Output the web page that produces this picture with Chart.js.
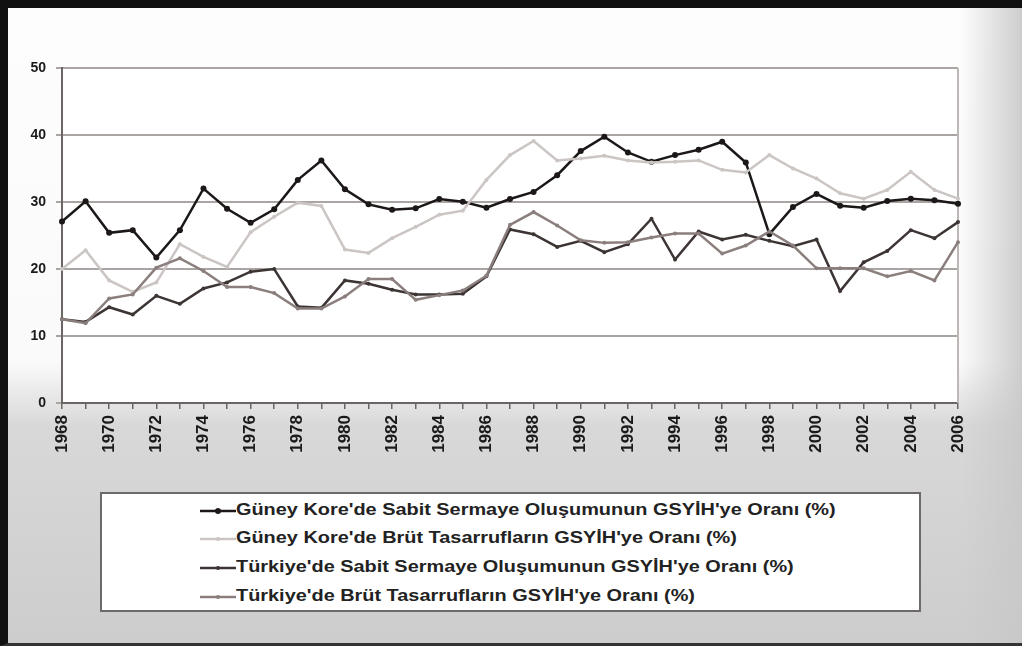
<!DOCTYPE html>
<html>
<head>
<meta charset="utf-8">
<script src="https://cdn.jsdelivr.net/npm/chart.js@4"></script>
<style>
  html, body { margin: 0; padding: 0; }
  body {
    width: 1022px; height: 646px; position: relative; overflow: hidden;
    font-family: "Liberation Sans", Arial, sans-serif;
    background:
      linear-gradient(to right, rgba(255,255,255,0) 94%, rgba(200,200,200,0.9) 100%),
      linear-gradient(to bottom, #fdfdfd 0%, #fafafa 56%, #d8d8d8 66%, #cdcdcd 100%);
  }
  #frame {
    position: absolute; left: 0; top: 0; width: 1022px; height: 646px; box-sizing: border-box;
    border-left: 8px solid #111; border-top: 8px solid #111; border-bottom: 3px solid #333;
    pointer-events: none;
  }
  #chart { position: absolute; left: 0; top: 0; }
  #legend {
    position: absolute; left: 100px; top: 492px; width: 821px; height: 120px;
    box-sizing: border-box; border: 2px solid #6e6a69; background: #fff;
  }
  .row { position: absolute; left: 0; height: 24px; white-space: nowrap; }
  .row svg { position: absolute; left: 98px; top: 6px; }
  .row span {
    position: absolute; left: 134px; top: 1px; font-weight: bold; font-size: 17px; color: #222;
    transform-origin: left center;
  }
</style>
</head>
<body>
<canvas id="chart" width="1022" height="646"></canvas>
<div id="legend"></div>
<div id="frame"></div>
<script>
// Yıllar
const years = [];
for (let y = 1968; y <= 2006; y++) years.push(String(y));

const koreaFixed = [27.1, 30.1, 25.4, 25.8, 21.7, 25.8, 32.0, 29.0, 26.9, 28.9,
  33.3, 36.2, 31.9, 29.65, 28.85, 29.05, 30.45, 30.05, 29.15, 30.45,
  31.5, 34.0, 37.6, 39.75, 37.4, 36.0, 37.0, 37.8, 39.0, 35.9,
  25.2, 29.25, 31.2, 29.45, 29.15, 30.15, 30.5, 30.25, 29.75];

const koreaSavings = [20.0, 22.8, 18.3, 16.6, 18.0, 23.7, 21.8, 20.3, 25.5, 27.8,
  29.9, 29.4, 22.9, 22.4, 24.6, 26.3, 28.1, 28.7, 33.3, 37.0,
  39.1, 36.2, 36.5, 36.9, 36.2, 35.9, 36.0, 36.2, 34.8, 34.4,
  37.0, 35.0, 33.5, 31.3, 30.5, 31.8, 34.5, 31.8, 30.5];

const turkeyFixed = [12.5, 12.1, 14.3, 13.2, 16.0, 14.8, 17.1, 18.0, 19.6, 20.0,
  14.4, 14.2, 18.3, 17.8, 16.9, 16.2, 16.2, 16.3, 18.9, 25.9,
  25.2, 23.3, 24.2, 22.5, 23.7, 27.5, 21.4, 25.6, 24.4, 25.1,
  24.2, 23.4, 24.4, 16.7, 21.0, 22.7, 25.8, 24.6, 27.0];

const turkeySavings = [12.5, 11.9, 15.6, 16.2, 20.2, 21.6, 19.7, 17.3, 17.3, 16.4,
  14.1, 14.1, 15.9, 18.5, 18.5, 15.4, 16.1, 16.8, 19.0, 26.6,
  28.5, 26.5, 24.3, 23.9, 24.0, 24.7, 25.3, 25.3, 22.3, 23.5,
  25.6, 23.5, 20.1, 20.1, 20.1, 18.9, 19.7, 18.3, 24.0];

const seriesNames = [
  "Güney Kore'de Sabit Sermaye Oluşumunun GSYİH'ye Oranı (%)",
  "Güney Kore'de Brüt Tasarrufların GSYİH'ye Oranı (%)",
  "Türkiye'de Sabit Sermaye Oluşumunun GSYİH'ye Oranı (%)",
  "Türkiye'de Brüt Tasarrufların GSYİH'ye Oranı (%)"
];
const yTicks = [0, 10, 20, 30, 40, 50];

const colors = ['#1c1818', '#cbc5c3', '#3d3434', '#8a7f7d'];
const radii = [3, 2, 2, 2];

const plotBg = {
  id: 'plotBg',
  beforeDraw(chart) {
    const { ctx, chartArea: a } = chart;
    ctx.save();
    ctx.fillStyle = '#ffffff';
    ctx.fillRect(a.left, a.top, a.right - a.left, a.bottom - a.top);
    ctx.restore();
  },
  beforeDatasetsDraw(chart) {
    const { ctx, chartArea: a } = chart;
    ctx.save();
    ctx.strokeStyle = '#bdb7b6';
    ctx.lineWidth = 2;
    ctx.beginPath();
    ctx.moveTo(a.right, a.top);
    ctx.lineTo(a.right, a.bottom);
    ctx.stroke();
    ctx.restore();
  }
};

const data = [koreaFixed, koreaSavings, turkeyFixed, turkeySavings];

const chart = new Chart(document.getElementById('chart'), {
  type: 'line',
  data: {
    labels: years,
    datasets: data.map((d, i) => ({
      label: seriesNames[i],
      data: d,
      borderColor: colors[i],
      backgroundColor: colors[i],
      borderWidth: 2.5,
      pointRadius: radii[i],
      pointBorderWidth: 0,
      tension: 0,
      fill: false
    })).reverse()
  },
  plugins: [plotBg],
  options: {
    responsive: false,
    animation: false,
    layout: { padding: { top: 68, right: 64, left: 0, bottom: 173 } },
    plugins: { legend: { display: false }, tooltip: { enabled: false } },
    scales: {
      x: {
        afterFit(scale) { scale.height = 70; },
        grid: { drawOnChartArea: false, drawTicks: true, tickLength: 6, color: '#6b6665', lineWidth: 1.5 },
        border: { color: '#6b6665', width: 2 },
        ticks: {
          autoSkip: false, minRotation: 90, maxRotation: 90, padding: 6,
          color: '#1a1a1a', font: { family: 'Liberation Sans', size: 17, weight: 'bold' },
          callback(v, i) { return i % 2 === 0 ? years[i] : ''; }
        }
      },
      y: {
        min: 0, max: 50,
        afterFit(scale) { scale.width = 62; },
        afterBuildTicks(scale) { scale.ticks = yTicks.map(v => ({ value: v })); },
        grid: { color: '#aaa4a3', lineWidth: 2, drawTicks: true, tickLength: 6 },
        border: { color: '#6b6665', width: 2 },
        ticks: {
          padding: 10, color: '#1a1a1a',
          font: { family: 'Liberation Sans', size: 14, weight: 'bold' }
        }
      }
    }
  }
});

// Lejant
const legend = document.getElementById('legend');
const rowTops = [5, 33, 62, 91];
seriesNames.forEach((name, i) => {
  const row = document.createElement('div');
  row.className = 'row';
  row.style.top = rowTops[i] + 'px';
  row.innerHTML =
    '<svg width="36" height="12"><line x1="0" y1="6" x2="36" y2="6" stroke="' + colors[i] +
    '" stroke-width="2.5"/><circle cx="18" cy="6" r="' + radii[i] + '" fill="' + colors[i] + '"/></svg>' +
    '<span>' + name + '</span>';
  legend.appendChild(row);
  const span = row.querySelector('span');
  span.style.transform = 'scaleX(1.17)';
});
</script>
</body>
</html>
